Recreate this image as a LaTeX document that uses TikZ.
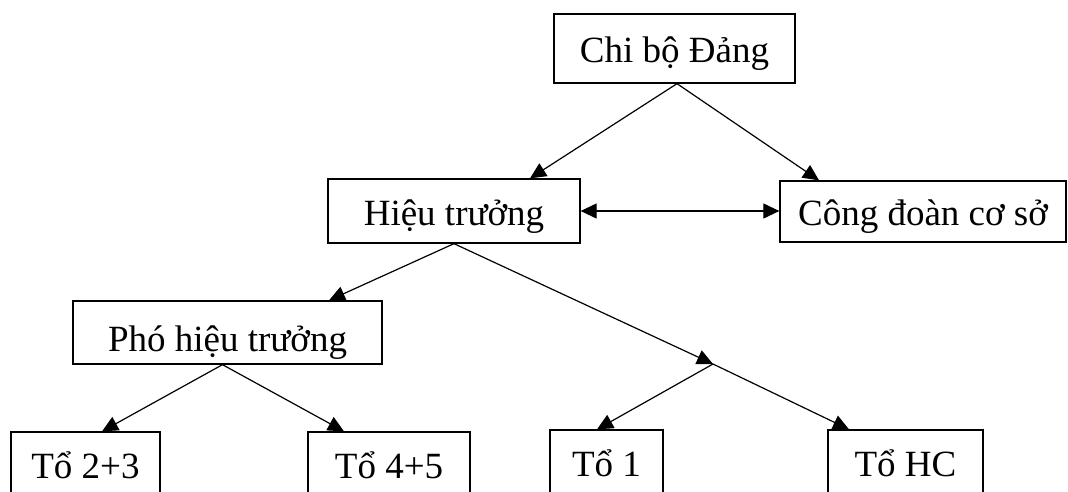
\documentclass[tikz,border=0pt]{standalone}
\usepackage{fontspec}
\setmainfont{Liberation Serif}
\usetikzlibrary{arrows.meta}
\begin{document}
\begin{tikzpicture}[x=1pt,y=-1pt,
  box/.style={draw,line width=1.3pt,inner sep=0pt,text height=28pt,text depth=0pt,
    font=\fontsize{37}{40}\selectfont,anchor=center},
  tip/.style={Triangle[length=16pt,width=15pt]},
  conn/.style={line width=1.2pt,-{Triangle[length=16pt,width=15pt]}}]
\useasboundingbox (0,0) rectangle (1068,491);
\clip (0,0) rectangle (1068,491);
\node[box,minimum width=241pt,minimum height=69pt] (chibo) at (674.5,48.5) {Chi bộ Đảng};
\node[box,minimum width=252pt,minimum height=64pt] (hieu) at (454,211) {Hiệu trưởng};
\node[box,minimum width=286pt,minimum height=61pt] (cd) at (923,211.5) {Công đoàn cơ sở};
\node[box,minimum width=309pt,minimum height=63pt,text height=38pt] (pho) at (227.5,332.5) {Phó hiệu trưởng};
\node[box,minimum width=149pt,minimum height=64pt] (t23) at (85.5,464) {Tổ 2+3};
\node[box,minimum width=162pt,minimum height=64pt] (t45) at (389,464) {Tổ 4+5};
\node[box,minimum width=113pt,minimum height=64pt] (t1) at (606.5,462) {Tổ 1};
\node[box,minimum width=155pt,minimum height=64pt] (thc) at (905.5,462) {Tổ HC};
\coordinate (j) at (713,364);
\draw[conn] ([xshift=2.5pt]chibo.south) -- ([xshift=76pt]hieu.north);
\draw[conn] ([xshift=2.5pt]chibo.south) -- ([xshift=-104pt]cd.north);
\draw[line width=1.2pt,{Triangle[length=16pt,width=15pt]}-{Triangle[length=16pt,width=15pt]}] (hieu.east) -- (hieu.east -| cd.west);
\draw[conn] (hieu.south) -- ([xshift=101.5pt]pho.north);
\draw[conn] (hieu.south) -- (j);
\draw[conn] ([xshift=-5pt]pho.south) -- ([xshift=16.5pt]t23.north);
\draw[conn] ([xshift=-5pt]pho.south) -- ([xshift=-45pt]t45.north);
\draw[conn] (j) -- ([xshift=-9.5pt]t1.north);
\draw[conn] (j) -- ([xshift=-56.5pt]thc.north);
\end{tikzpicture}
\end{document}
